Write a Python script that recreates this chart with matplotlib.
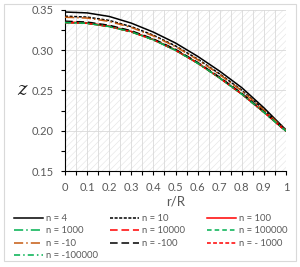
import matplotlib
matplotlib.use("Agg")
import matplotlib.pyplot as plt
from matplotlib.patches import Rectangle
from matplotlib.ticker import MultipleLocator

# r/R positions and z profiles
r = [0.0, 0.1, 0.2, 0.3, 0.4, 0.5, 0.6, 0.7, 0.8, 0.9, 1.0]
z_n4 = [0.3475, 0.3464, 0.3420, 0.3337, 0.3225, 0.3090, 0.2925, 0.2740, 0.2535, 0.2285, 0.2010]
z_n10 = [0.3423, 0.3412, 0.3370, 0.3293, 0.3187, 0.3054, 0.2891, 0.2706, 0.2503, 0.2263, 0.2004]
z_n100 = [0.3352, 0.3341, 0.3301, 0.3234, 0.3135, 0.3005, 0.2844, 0.2659, 0.2459, 0.2233, 0.1996]
z_n1000 = [0.3345, 0.3335, 0.3295, 0.3229, 0.3130, 0.3000, 0.2840, 0.2655, 0.2455, 0.2230, 0.1995]
z_n10000 = [0.3345, 0.3335, 0.3295, 0.3229, 0.3130, 0.3000, 0.2840, 0.2655, 0.2455, 0.2230, 0.1995]
z_n100000 = [0.3345, 0.3335, 0.3295, 0.3229, 0.3130, 0.3000, 0.2840, 0.2655, 0.2455, 0.2230, 0.1995]
z_nm10 = [0.3410, 0.3400, 0.3358, 0.3283, 0.3178, 0.3045, 0.2883, 0.2698, 0.2495, 0.2258, 0.2003]
z_nm100 = [0.3361, 0.3350, 0.3310, 0.3242, 0.3141, 0.3011, 0.2850, 0.2665, 0.2465, 0.2237, 0.1997]
z_nm1000 = [0.3345, 0.3335, 0.3295, 0.3229, 0.3130, 0.3000, 0.2840, 0.2655, 0.2455, 0.2230, 0.1995]
z_nm100000 = [0.3345, 0.3335, 0.3295, 0.3229, 0.3130, 0.3000, 0.2840, 0.2655, 0.2455, 0.2230, 0.1995]

labels = ["n = 4", "n = 10", "n = 100", "n = 1000", "n = 10000", "n = 100000",
          "n = -10", "n = -100", "n = - 1000", "n = -100000"]

GREEN = "#00b050"
RED = "#ff0000"
ORANGE = "#c55a11"
GRAY = "#595959"

series = [
    (z_n4, "black", "-"),
    (z_n10, "black", (0, (2, 1))),
    (z_n100, RED, "-"),
    (z_n1000, GREEN, (0, (6, 2, 1, 2))),
    (z_n10000, RED, (0, (5, 2.5))),
    (z_n100000, GREEN, (0, (3, 2))),
    (z_nm10, ORANGE, (0, (6, 2, 1, 2))),
    (z_nm100, "black", (0, (5, 2.5))),
    (z_nm1000, RED, (0, (2.5, 1.5))),
    (z_nm100000, GREEN, (0, (4, 2, 1, 2))),
]

plt.rcParams['font.family'] = ['Lato', 'DejaVu Sans']
plt.rcParams['hatch.linewidth'] = 0.5

fig = plt.figure(figsize=(3.0, 2.67), dpi=100)
ax = fig.add_axes([65/300, 1 - 171/267, 221/300, 161/267])

# hatched plot-area background
ax.add_patch(Rectangle((0, 0), 1, 1, transform=ax.transAxes, facecolor="none",
                       edgecolor="#e8e8e8", linewidth=0, hatch="/////", zorder=0))

handles = []
for (z, c, ls), lab in zip(series, labels):
    h, = ax.plot(r, z, color=c, linestyle=ls, linewidth=1.1, label=lab, zorder=3)
    handles.append(h)

ax.set_xlim(0, 1)
ax.set_ylim(0.15, 0.35)
ax.xaxis.set_major_locator(MultipleLocator(0.1))
ax.xaxis.set_minor_locator(MultipleLocator(0.05))
ax.yaxis.set_major_locator(MultipleLocator(0.05))
ax.yaxis.set_minor_locator(MultipleLocator(0.025))
ax.xaxis.set_major_formatter(plt.FuncFormatter(lambda v, p: f"{v:g}"))
ax.yaxis.set_major_formatter(plt.FuncFormatter(lambda v, p: f"{v:.2f}"))

ax.grid(True, which="both", axis="x", color="#d9d9d9", linewidth=0.6, zorder=1)
ax.grid(True, which="major", axis="y", color="#d9d9d9", linewidth=0.6, zorder=1)
ax.set_axisbelow(True)

for s in ["top", "right"]:
    ax.spines[s].set_visible(False)
for s in ["left", "bottom"]:
    ax.spines[s].set_color("black")
    ax.spines[s].set_linewidth(0.8)

ax.tick_params(which="both", direction="out", length=3, width=0.8, color="black",
               labelsize=8, labelcolor=GRAY)
ax.tick_params(axis="x", pad=5)
ax.tick_params(axis="y", pad=5)

ax.set_xlabel("r/R", fontsize=9.5, color=GRAY, labelpad=2)
fig.text(22/300, 1 - 90/267, "z", fontsize=13, family="DejaVu Serif", style="italic",
         ha="center", va="center", color="#222222")

# three single-column legends so the columns sit where the reference has them
columns = [[0, 3, 6, 9], [1, 4, 7], [2, 5, 8]]
col_x = [14, 110, 207]
for idx, x0 in zip(columns, col_x):
    leg = fig.legend([handles[i] for i in idx], [labels[i] for i in idx],
                     loc="upper left", bbox_to_anchor=(x0/300, 1 - 214/267),
                     frameon=False, fontsize=6.8, handlelength=3.1, handletextpad=0.3,
                     labelspacing=0.37, borderaxespad=0, borderpad=0)
    for t in leg.get_texts():
        t.set_color(GRAY)

fig.patches.append(Rectangle((4/300, 1 - 261/267), 292/300, 257/267, transform=fig.transFigure,
                             facecolor="none", edgecolor="#d9d9d9", linewidth=0.8))

fig.savefig("out.png", dpi=100)
